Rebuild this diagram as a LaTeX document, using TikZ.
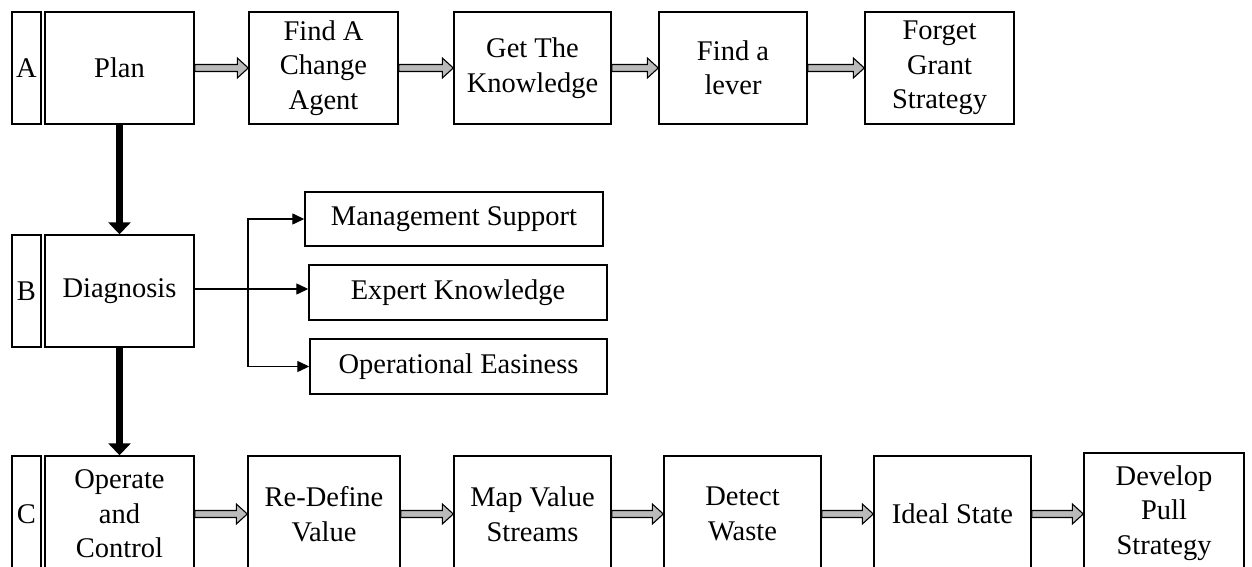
\documentclass[tikz,border=0pt]{standalone}
\usepackage{fontspec}
\setmainfont{Liberation Serif}
\usetikzlibrary{arrows.meta,calc}
\tikzset{
  box/.style={draw, line width=1.4pt, inner sep=0pt, align=center,
    font=\fontsize{28.5}{34.5}\selectfont},
  lbl/.style={box, minimum width=29pt},
  bigbox/.style={box, minimum width=149pt},
  grarr/.style={fill=black!27, draw=black, line width=1.1pt, line join=miter},
  thickarr/.style={line width=6.5pt, -{Triangle[width=22pt,length=12pt]}},
  thinarr/.style={line width=1.3pt, -{Triangle[width=11pt,length=12pt]}},
}
\newcommand{\grarrow}[2]{%
  \draw[grarr] let \p1=(#1.east), \p2=(#2.west) in
    (\x1,\y1+3.5pt) -- (\x2-11pt,\y1+3.5pt) -- (\x2-11pt,\y1+10pt) -- (\x2,\y1)
    -- (\x2-11pt,\y1-10pt) -- (\x2-11pt,\y1-3.5pt) -- (\x1,\y1-3.5pt) -- cycle;}
\begin{document}
\begin{tikzpicture}[x=1pt,y=-1pt]
\useasboundingbox (0,0) rectangle (1252,567);
\clip (0,0) rectangle (1252,567);
% Row A
\node[lbl, minimum height=112pt] (A) at (26.5,68) {A};
\node[bigbox, minimum height=112pt] (plan) at (119.5,68) {Plan};
\node[box, minimum width=149pt, minimum height=112pt] (fca) at (323.5,68) {Find A\\Change\\Agent};
\node[box, minimum width=157pt, minimum height=112pt] (gtk) at (532.5,68) {Get The\\Knowledge};
\node[box, minimum width=148pt, minimum height=112pt] (fl) at (733,68) {Find a\\lever};
\node[box, minimum width=149pt, minimum height=112pt] (fgs) at (939.5,68) {Forget\\Grant\\Strategy};
% Row B
\node[lbl, minimum height=112pt] (B) at (26.5,291) {B};
\node[bigbox, minimum height=112pt] (diag) at (119.5,291) {Diagnosis};
\node[box, minimum width=298pt, minimum height=54pt] (ms) at (454,219) {Management Support};
\node[box, minimum width=298pt, minimum height=55pt] (ek) at (458,292.5) {Expert Knowledge};
\node[box, minimum width=297pt, minimum height=55pt] (oe) at (458.5,366.5) {Operational Easiness};
% Row C
\node[lbl, minimum height=116pt] (C) at (26.5,514) {C};
\node[bigbox, minimum height=116pt] (oc) at (119.5,514) {Operate\\and\\Control};
\node[box, minimum width=152pt, minimum height=116pt] (rdv) at (324,514) {Re-Define\\Value};
\node[box, minimum width=157pt, minimum height=116pt] (mvs) at (532.5,514) {Map Value\\Streams};
\node[box, minimum width=157pt, minimum height=116pt] (dw) at (742.5,514) {Detect\\Waste};
\node[box, minimum width=157pt, minimum height=116pt] (is) at (952.5,514) {Ideal State};
\node[box, minimum width=160pt, minimum height=120pt] (dps) at (1164,513) {Develop\\Pull\\Strategy};
% gray arrows
\grarrow{plan}{fca}
\grarrow{fca}{gtk}
\grarrow{gtk}{fl}
\grarrow{fl}{fgs}
\grarrow{oc}{rdv}
\grarrow{rdv}{mvs}
\grarrow{mvs}{dw}
\grarrow{dw}{is}
\grarrow{is}{dps}
% thick vertical arrows
\draw[thickarr] (plan.south) -- (diag.north);
\draw[thickarr] (diag.south) -- (oc.north);
% branching
\coordinate (j) at (248,289);
\draw[line width=2.4pt] (diag.east |- j) -- (j);
\draw[thinarr] (j) |- (ms.west);
\draw[thinarr] (j) -- (j -| ek.west);
\draw[thinarr] (j) |- (oe.west);
\end{tikzpicture}
\end{document}
